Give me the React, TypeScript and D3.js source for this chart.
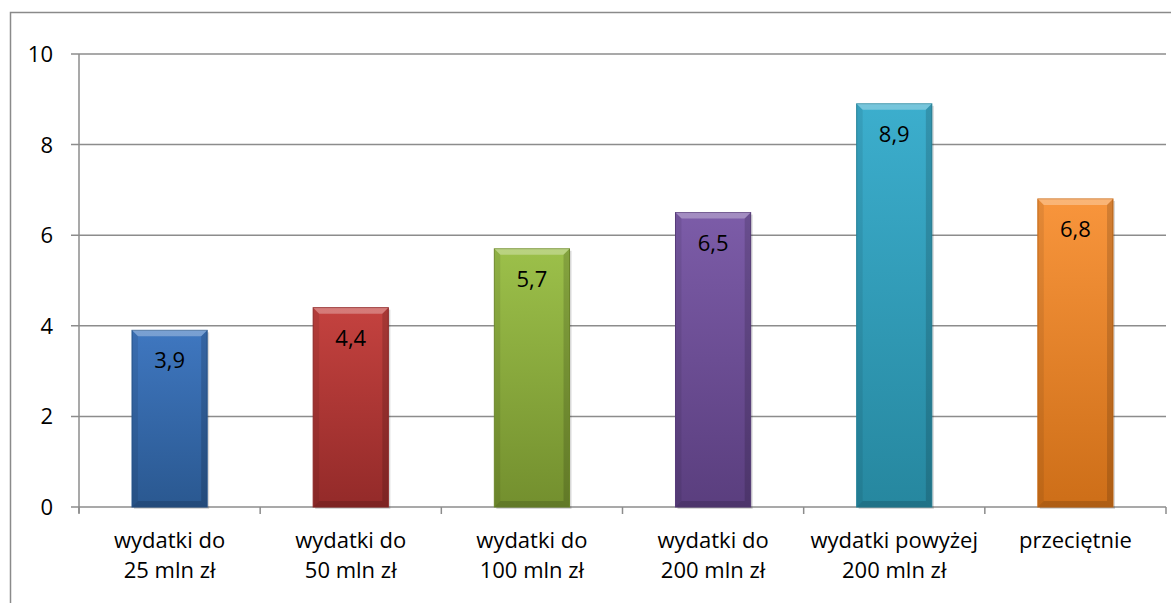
import React from "react";
import * as d3 from "d3";

const categories: string[][] = [
  ["wydatki do", "25 mln zł"],
  ["wydatki do", "50 mln zł"],
  ["wydatki do", "100 mln zł"],
  ["wydatki do", "200 mln zł"],
  ["wydatki powyżej", "200 mln zł"],
  ["przeciętnie"],
];
const values: number[] = [3.9, 4.4, 5.7, 6.5, 8.9, 6.8];
const labels: string[] = ["3,9", "4,4", "5,7", "6,5", "8,9", "6,8"];
const yTicks: number[] = [0, 2, 4, 6, 8, 10];
const colorsTop = ["#3f77c0", "#c4423f", "#9cc04a", "#7c5ca8", "#3caecd", "#f8953c"];
const colorsBottom = ["#2a5890", "#932a29", "#738f2e", "#5a3e7e", "#26879f", "#cd6e18"];

const W = 1171;
const H = 603;
const left = 79;
const right = 1166;
const top = 54;
const bottom = 507;
const FONT = "'Open Sans', sans-serif";

export default function App() {
  const x = d3.scaleBand<number>().domain(d3.range(values.length)).range([left, right]).paddingInner(0.585).paddingOuter(0.2925);
  const y = d3.scaleLinear().domain([0, 10]).range([bottom, top]);
  const band = (right - left) / values.length;
  const bw = x.bandwidth();
  const bev = 6;
  return (
    <svg width={W} height={H} style={{ position: "absolute", left: 0, top: 0 }}>
      <defs>
        {values.map((_, i) => (
          <linearGradient key={i} id={`g${i}`} x1="0" y1="0" x2="0" y2="1">
            <stop offset="0" stopColor={colorsTop[i]} />
            <stop offset="1" stopColor={colorsBottom[i]} />
          </linearGradient>
        ))}
      </defs>
      <rect x={0} y={0} width={W} height={H} fill="#fff" />
      <path d={`M10.5,${H} L10.5,12.5 L${W},12.5`} fill="none" stroke="#8a8a8a" strokeWidth={1.5} />
      {yTicks.map((t) => (
        <g key={t}>
          <line x1={71} x2={right} y1={y(t)} y2={y(t)} stroke="#8c8c8c" strokeWidth={1.5} />
          <text x={53} y={y(t) + 8} textAnchor="end" fontFamily={FONT} fontSize={22} fill="#000">
            {t}
          </text>
        </g>
      ))}
      <line x1={left} x2={left} y1={top} y2={bottom + 6} stroke="#8c8c8c" strokeWidth={1.5} />
      {d3.range(values.length + 1).map((i) => (
        <line key={i} x1={left + i * band} x2={left + i * band} y1={bottom} y2={bottom + 7} stroke="#8c8c8c" strokeWidth={1.5} />
      ))}
      {values.map((v, i) => {
        const x0 = x(i)!;
        const y0 = y(v);
        const h = bottom - y0;
        return (
          <g key={i}>
            <rect x={x0 + 2} y={y0 + 2} width={bw} height={h} fill="#000" opacity={0.15} />
            <rect x={x0} y={y0} width={bw} height={h} fill={`url(#g${i})`} stroke={colorsBottom[i]} strokeWidth={1} />
            <polygon points={`${x0},${y0} ${x0 + bw},${y0} ${x0 + bw - bev},${y0 + bev} ${x0 + bev},${y0 + bev}`} fill="#fff" opacity={0.3} />
            <polygon points={`${x0},${y0} ${x0 + bev},${y0 + bev} ${x0 + bev},${bottom - bev} ${x0},${bottom}`} fill="#000" opacity={0.08} />
            <polygon points={`${x0 + bw},${y0} ${x0 + bw - bev},${y0 + bev} ${x0 + bw - bev},${bottom - bev} ${x0 + bw},${bottom}`} fill="#000" opacity={0.15} />
            <polygon points={`${x0},${bottom} ${x0 + bev},${bottom - bev} ${x0 + bw - bev},${bottom - bev} ${x0 + bw},${bottom}`} fill="#000" opacity={0.15} />
            <text x={x0 + bw / 2} y={y0 + 38} textAnchor="middle" fontFamily={FONT} fontSize={22} fill="#000">
              {labels[i]}
            </text>
          </g>
        );
      })}
      {categories.map((lines, i) => (
        <text key={i} textAnchor="middle" fontFamily={FONT} fontSize={22} fill="#000">
          {lines.map((l, j) => (
            <tspan key={j} x={x(i)! + bw / 2} y={548 + j * 30}>
              {l}
            </tspan>
          ))}
        </text>
      ))}
    </svg>
  );
}
